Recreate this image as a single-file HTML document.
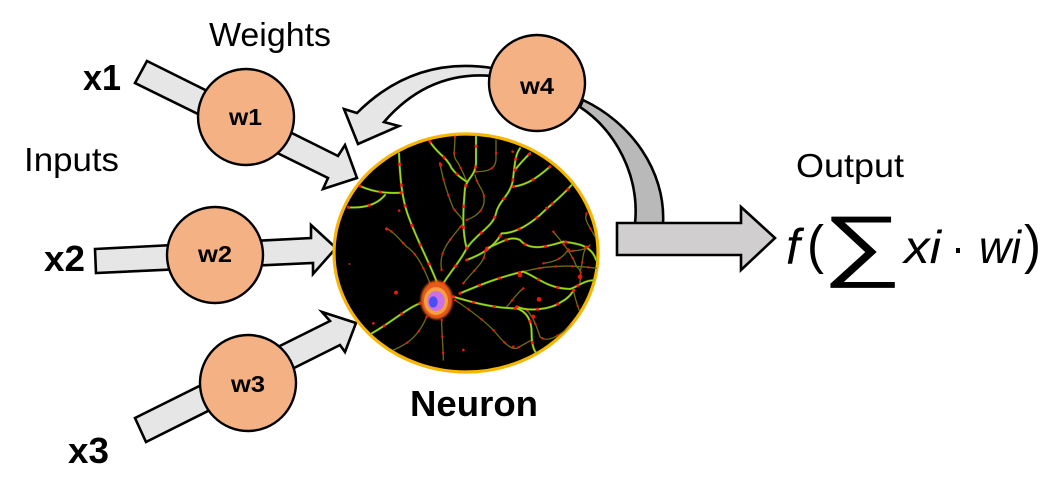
<!DOCTYPE html>
<html>
<head>
<meta charset="utf-8">
<style>
html,body{margin:0;padding:0;background:#fff;}
svg{display:block;}
text{font-family:"Liberation Sans",sans-serif;fill:#000;}
</style>
</head>
<body>
<svg width="1041" height="493" viewBox="0 0 1041 493" xmlns="http://www.w3.org/2000/svg">
<defs>
<clipPath id="cp"><ellipse cx="466" cy="253" rx="132" ry="118"/></clipPath>
<filter id="bl" x="-30%" y="-30%" width="160%" height="160%"><feGaussianBlur stdDeviation="3"/></filter>
<filter id="bs" x="-30%" y="-30%" width="160%" height="160%"><feGaussianBlur stdDeviation="1"/></filter>
<g id="bright" fill="none" stroke-linecap="round" stroke-linejoin="round">
<path d="M352 490C325 420 290 360 262 280C245 230 240 170 237 100"/>
<path d="M370 490C395 450 420 425 440 385C470 340 520 320 528 280C535 245 570 225 578 185C585 130 585 105 600 85"/>
<path d="M440 385C425 330 430 260 435 205C440 175 465 170 468 130L468 50"/>
<path d="M440 420C480 405 520 385 545 340C580 340 620 320 660 285C690 255 720 235 755 195"/>
<path d="M420 520C480 495 540 470 610 455C650 470 680 505 750 507C775 500 790 480 830 480"/>
<path d="M400 530C450 545 520 565 590 565C620 575 635 600 635 640C635 670 640 690 650 700"/>
<path d="M300 550C260 565 210 610 155 640"/>
<path d="M500 385C540 370 570 345 600 360C630 395 680 380 730 365C770 370 815 375 828 420"/>
<path d="M590 560C625 575 690 570 725 545C745 535 755 520 762 510"/>
<path d="M120 198C150 212 190 222 245 218M85 262C130 265 170 255 195 225"/>
<path d="M330 65C350 100 380 110 395 145C410 165 425 175 440 185"/>
<path d="M580 200C620 195 650 175 690 140M585 150C600 130 615 115 630 100"/>
</g>
<g id="dim" fill="none" stroke-linecap="round" stroke-linejoin="round">
<path d="M330 490C310 440 290 400 260 380C240 360 225 340 205 328"/>
<path d="M365 450C355 400 380 370 430 310"/>
<path d="M405 540C450 570 490 600 520 630C545 660 570 690 590 685L635 660"/>
<path d="M320 590C300 640 270 670 220 690"/>
<path d="M365 600C365 640 370 690 370 720"/>
<path d="M360 130C370 190 390 240 400 265C415 285 425 290 430 305"/>
<path d="M440 300C480 285 500 260 490 220C480 195 470 190 465 165"/>
<path d="M405 50C405 100 395 105 415 130C425 150 435 170 440 185"/>
<path d="M468 155C500 155 525 150 528 120L528 60"/>
<path d="M610 455C680 435 760 435 830 445"/>
<path d="M670 430C710 425 730 410 740 395C765 390 790 395 810 375"/>
<path d="M800 280C790 300 810 320 825 350"/>
<path d="M760 510C765 535 770 550 778 572"/>
<path d="M700 335C720 360 750 390 770 440C790 455 780 470 780 490"/>
<path d="M800 380C785 400 790 430 780 455"/>
<path d="M620 570C640 590 650 620 660 650C680 670 720 650 770 600"/>
<path d="M430 490C470 440 490 430 495 400"/>
<path d="M610 505C590 520 575 545 560 560"/>
</g>
</defs>

<polygon points="147,61 338,156 345,145 357,178 323,189 328,178 135,83" fill="#e7e6e6" stroke="#000" stroke-width="2.6"/>
<polygon points="95,249 311,238 311,225 336,248 313,274 313,263 96,273" fill="#e7e6e6" stroke="#000" stroke-width="2.6"/>
<polygon points="135,418 330,321 322,312 356,323 345,352 340,345 146,442" fill="#e7e6e6" stroke="#000" stroke-width="2.6"/>
<path d="M492,68C440,60 395,75 357,113L344,109L358,144L399,126L384,122C410,92 445,72 492,76Z" fill="#e7e6e6" stroke="#000" stroke-width="2.6"/>
<path d="M583,100C630,122 666,170 663,224L635,224C640,175 615,130 580,107Z" fill="#b9b9b9" stroke="#000" stroke-width="2.6"/>
<polygon points="617,223 741,223 741,207 775,238 741,270 741,255 617,255" fill="#d0cece" stroke="#000" stroke-width="2.6"/>

<ellipse cx="466" cy="253" rx="132" ry="119" fill="#000" stroke="#f7b500" stroke-width="3.2"/>
<g clip-path="url(#cp)">
<g transform="translate(320 120) scale(.33333)">
<use href="#dim" stroke="#6e6a14" stroke-width="4"/>
<use href="#dim" stroke="#e81810" stroke-width="7" stroke-dasharray="1 48"/>
<use href="#bright" stroke="#c03010" stroke-width="8" opacity=".35"/>
<use href="#bright" stroke="#58c814" stroke-width="6"/>
<use href="#bright" stroke="#e2e020" stroke-width="2.5" opacity=".75"/>
<use href="#bright" stroke="#ff1a10" stroke-width="9" stroke-dasharray="1 62"/>
<g fill="#e81810">
<circle cx="200" cy="327" r="5"/><circle cx="228" cy="518" r="6"/><circle cx="237" cy="272" r="4"/><circle cx="657" cy="538" r="7"/><circle cx="88" cy="432" r="3"/>
<circle cx="362" cy="135" r="5"/><circle cx="578" cy="95" r="4"/><circle cx="680" cy="265" r="5"/><circle cx="745" cy="390" r="5"/><circle cx="780" cy="470" r="7"/>
<circle cx="640" cy="590" r="6"/><circle cx="580" cy="680" r="4"/><circle cx="430" cy="690" r="4"/><circle cx="160" cy="610" r="4"/><circle cx="600" cy="465" r="7"/>
</g>
<ellipse cx="350" cy="540" rx="48" ry="58" fill="#e85a18" filter="url(#bl)"/>
<ellipse cx="348" cy="543" rx="36" ry="42" fill="#f5a040" filter="url(#bs)"/>
<ellipse cx="348" cy="543" rx="26" ry="30" fill="#cc70e8" filter="url(#bs)"/>
<ellipse cx="340" cy="546" rx="13" ry="17" fill="#4a50f0" filter="url(#bs)"/>
</g>
</g>

<circle cx="246" cy="117" r="48" fill="#f4b183" stroke="#000" stroke-width="2.4"/>
<circle cx="215" cy="255" r="48" fill="#f4b183" stroke="#000" stroke-width="2.4"/>
<circle cx="248" cy="383" r="48" fill="#f4b183" stroke="#000" stroke-width="2.4"/>
<circle cx="537" cy="83" r="48" fill="#f4b183" stroke="#000" stroke-width="2.4"/>
<g font-size="23" font-weight="bold">
<text x="229" y="125" textLength="33" lengthAdjust="spacingAndGlyphs">w1</text>
<text x="198" y="262" textLength="34" lengthAdjust="spacingAndGlyphs">w2</text>
<text x="231" y="392" textLength="34" lengthAdjust="spacingAndGlyphs">w3</text>
<text x="520" y="94" textLength="34" lengthAdjust="spacingAndGlyphs">w4</text>
</g>

<text x="209" y="46" font-size="33" textLength="122" lengthAdjust="spacingAndGlyphs">Weights</text>
<text x="24" y="171" font-size="33" textLength="95" lengthAdjust="spacingAndGlyphs">Inputs</text>
<text x="796" y="177" font-size="33" textLength="108" lengthAdjust="spacingAndGlyphs">Output</text>
<text x="83" y="90" font-size="36" font-weight="bold" textLength="38" lengthAdjust="spacingAndGlyphs">x1</text>
<text x="44" y="271" font-size="36" font-weight="bold" textLength="41" lengthAdjust="spacingAndGlyphs">x2</text>
<text x="68" y="463" font-size="36" font-weight="bold" textLength="41" lengthAdjust="spacingAndGlyphs">x3</text>
<text x="410" y="416" font-size="36" font-weight="bold" textLength="128" lengthAdjust="spacingAndGlyphs">Neuron</text>

<g fill="#1a1a1a">
<text x="786" y="264" font-size="50" font-style="italic">f</text>
<text x="807" y="263" font-size="54" textLength="17" lengthAdjust="spacingAndGlyphs">(</text>
<text x="822" y="271" font-size="79" textLength="80" lengthAdjust="spacingAndGlyphs">∑</text>
<text x="904" y="263" font-size="46" font-style="italic" textLength="37" lengthAdjust="spacingAndGlyphs">xi</text>
<text x="951" y="263" font-size="46" textLength="14" lengthAdjust="spacingAndGlyphs">·</text>
<text x="979" y="263" font-size="46" font-style="italic" textLength="42" lengthAdjust="spacingAndGlyphs">wi</text>
<text x="1024" y="263" font-size="54" textLength="17" lengthAdjust="spacingAndGlyphs">)</text>
</g>
</svg>
</body>
</html>
